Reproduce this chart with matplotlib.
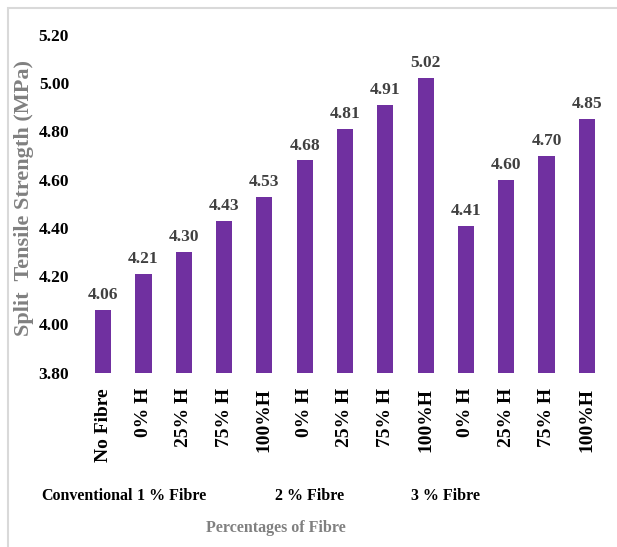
import matplotlib
matplotlib.use("Agg")
import matplotlib.pyplot as plt
from matplotlib.patches import Rectangle
from matplotlib.transforms import blended_transform_factory

# Split tensile strength per mix
mixes = ["No Fibre", "0% H", "25% H", "75% H", "100%H",
         "0% H", "25% H", "75% H", "100%H",
         "0% H", "25% H", "75% H", "100%H"]
strength = [4.06, 4.21, 4.30, 4.43, 4.53,
            4.68, 4.81, 4.91, 5.02,
            4.41, 4.60, 4.70, 4.85]
groups = ["Conventional", "1 % Fibre", "2 % Fibre", "3 % Fibre"]
group_pos = [-0.40, 1.71, 5.11, 8.50]
y_ticks = [3.80, 4.00, 4.20, 4.40, 4.60, 4.80, 5.00, 5.20]

plt.rcParams["font.family"] = ["Liberation Serif", "DejaVu Serif"]
plt.rcParams["font.weight"] = "bold"

fig = plt.figure(figsize=(6.17, 5.47), dpi=100)
ax = fig.add_axes([0.1345, 0.3186, 0.8493, 0.6174])

x = list(range(len(mixes)))
bars = ax.bar(x, [v - 3.8 for v in strength], bottom=3.8, width=0.4,
              color="#7030A0")

for xi, v in zip(x, strength):
    ax.annotate(f"{v:.2f}", (xi, v), xytext=(0, 5), textcoords="offset points",
                ha="center", va="bottom", fontsize=12.5, fontweight="bold",
                color="#404040")

ax.set_xlim(-0.5, len(mixes) - 0.5)
ax.set_ylim(3.8, 5.2)
ax.set_yticks(y_ticks)
ax.set_yticklabels([f"{t:.2f}" for t in y_ticks], fontsize=12.5, fontweight="bold")
ax.set_xticks(x)
ax.set_xticklabels(mixes, rotation=90, fontsize=14, fontweight="bold")
ax.tick_params(axis="y", length=0, pad=10)
ax.tick_params(axis="x", length=0, pad=11)
for s in ax.spines.values():
    s.set_visible(False)

trans = blended_transform_factory(ax.transData, ax.transAxes)
for g, gx in zip(groups, group_pos):
    ax.text(gx, -0.365, g, transform=trans, ha="center", va="center",
            fontsize=11.5, fontweight="bold")

fig.text(276 / 617, 1 - 528 / 547, "Percentages of Fibre", ha="center",
         va="center", fontsize=11.5, fontweight="bold", color="#808080")
fig.text(24 / 617, 1 - 198 / 547, "Split  Tensile Strength (MPa)", ha="center",
         va="center", rotation=90, fontsize=16, fontweight="bold",
         color="#808080")

# light frame around the chart area
fig.patches.append(Rectangle((8 / 617, -0.1), 1.2, 1.1 - 8 / 547,
                             transform=fig.transFigure, fill=False,
                             edgecolor="#d9d9d9", linewidth=1.5))

fig.savefig("out.png", dpi=100)
